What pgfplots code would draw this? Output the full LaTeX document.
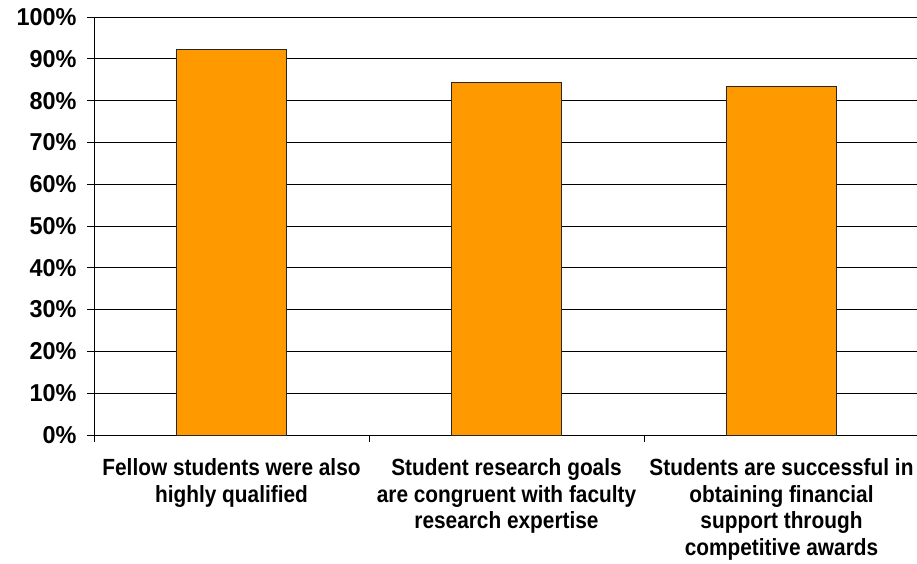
\documentclass[border=0pt]{standalone}
\usepackage{fontspec}
\setmainfont{Liberation Sans}
\newfontfamily\ticksfont[FakeStretch=0.96]{Liberation Sans}
\newfontfamily\catfont[FakeStretch=0.89]{Liberation Sans}
\usepackage{pgfplots}
\pgfplotsset{compat=1.18}
\definecolor{barorange}{HTML}{FF9900}

\begin{document}
\begin{tikzpicture}
\begin{axis}[
    scale only axis, width=825bp, height=418bp,
    ymin=0, ymax=100, xmin=-0.5, xmax=2.5,
    axis lines*=left,
    axis line style={black, line width=0.8bp},
    ymajorgrids, grid style={black, line width=0.8bp},
    tick align=outside, major tick length=7bp,
    tick style={black, line width=0.8bp},
    ytick={0,10,...,100},
    yticklabels={0\%,10\%,20\%,30\%,40\%,50\%,60\%,70\%,80\%,90\%,100\%},
    /pgf/number format/assume math mode=true,
    yticklabel style={font=\ticksfont\bfseries\fontsize{24.5}{26}\selectfont, xshift=-7bp},
    xtick={-0.5,0.5,1.5},
    xticklabels={},
    extra x ticks={0,1,2},
    extra x tick labels={Fellow students were also\\highly qualified,
        Student research goals\\are congruent with faculty\\research expertise,
        Students are successful in\\obtaining financial\\support through\\competitive awards},
    extra x tick style={grid=none, major tick length=0pt,
        tick label style={font=\catfont\bfseries\fontsize{23.5}{26.7}\selectfont,
            align=center, yshift=-20bp}},
    ybar, bar width=0.4,
]
\addplot[fill=barorange, draw=black!85, line width=0.8bp] coordinates {
    (0,92.3)
    (1,84.3)
    (2,83.3)
};
\end{axis}
\pgfresetboundingbox
\useasboundingbox ([xshift=-94bp,yshift=-129bp]current axis.south west)
    rectangle ([xshift=-2bp,yshift=17bp]current axis.north east);
\end{tikzpicture}
\end{document}
